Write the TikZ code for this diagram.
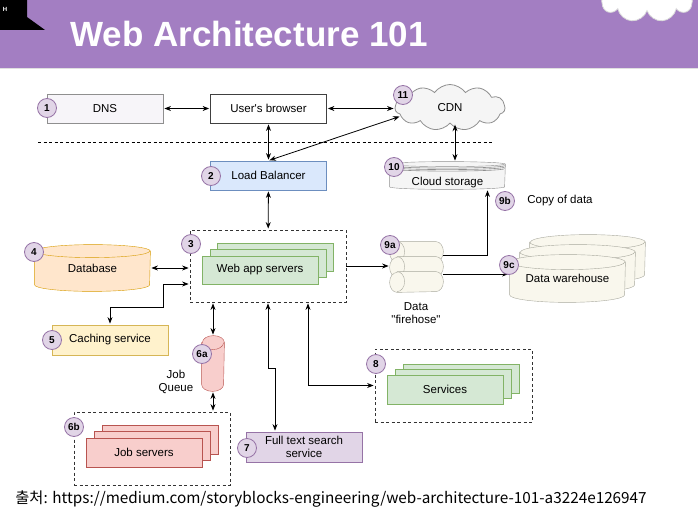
\documentclass[tikz,border=0pt]{standalone}
\usepackage{fontspec}
\setmainfont{Liberation Sans}
\newfontfamily\krfont{Noto Sans CJK KR}
\usetikzlibrary{shapes.symbols,arrows.meta,backgrounds}

\definecolor{hdr}{RGB}{163,126,194}
\definecolor{tagfill}{HTML}{E1D5E7}
\definecolor{tagline}{HTML}{9673A6}
\definecolor{lbfill}{HTML}{DAE8FC}
\definecolor{lbline}{HTML}{6C8EBF}
\definecolor{grfill}{HTML}{D5E8D4}
\definecolor{grline}{HTML}{82B366}
\definecolor{orfill}{HTML}{FFE6CC}
\definecolor{orline}{HTML}{D79B00}
\definecolor{yefill}{HTML}{FFF2CC}
\definecolor{yeline}{HTML}{D6B656}
\definecolor{rdfill}{HTML}{F8CECC}
\definecolor{rdline}{HTML}{B85450}
\definecolor{crfill}{HTML}{F9F7ED}
\definecolor{crline}{HTML}{A9A99E}
\definecolor{dnsfill}{HTML}{F7F5F9}
\definecolor{gyfill}{HTML}{F5F5F5}
\definecolor{gyline}{HTML}{8F8F8F}

\newcommand\drumdraw[4]{%
  \draw[#4] ([yshift=-#3pt]#1.north west) -- ([yshift=#3pt]#1.south west)
    arc[start angle=180, end angle=360, x radius=#2pt, y radius=#3pt]
    -- ([yshift=-#3pt]#1.north east)
    arc[start angle=0, end angle=180, x radius=#2pt, y radius=#3pt] -- cycle
    ([yshift=-#3pt]#1.north west)
    arc[start angle=180, end angle=360, x radius=#2pt, y radius=#3pt];}
\newcommand\pipedraw[4]{%
  \draw[#4] ([xshift=#2pt]#1.north west) -- ([xshift=-#2pt]#1.north east)
    arc[start angle=90, end angle=-90, x radius=#2pt, y radius=#3pt]
    -- ([xshift=#2pt]#1.south west)
    arc[start angle=270, end angle=90, x radius=#2pt, y radius=#3pt] -- cycle
    ([xshift=#2pt]#1.north west)
    arc[start angle=90, end angle=-90, x radius=#2pt, y radius=#3pt];}

\tikzset{
  every node/.style={font=\fontsize{11.5}{13.5}\selectfont},
  box/.style={draw, minimum width=116pt, minimum height=29pt, inner sep=0pt},
  sheet/.style={box, fill=grfill, draw=grline, minimum height=28pt},
  tag/.style={circle, draw=tagline, fill=tagfill, minimum size=19pt, inner sep=0pt,
    font=\bfseries\fontsize{10}{10}\selectfont},
  group/.style={draw=black!80, dash pattern=on 3pt off 2.5pt, inner sep=0pt},
  can/.style={inner sep=0pt, minimum width=115pt, minimum height=47pt},
  pipe/.style={inner sep=0pt, minimum width=53pt, minimum height=20pt},
}

\begin{document}
\begin{tikzpicture}[x=1pt, y=-1pt, line width=0.8pt, >={Stealth[length=6.5pt,width=5pt]}]
  \useasboundingbox (0,0) rectangle (698,516);
  \fill[hdr] (0,0) rectangle (698,68);
  \draw[black!12, line width=1pt] (0,69) -- (698,69);
  \fill (0,0) -- (27,0) -- (27,17) -- (45,30) -- (0,30) -- cycle;
  \node[text=white, inner sep=0pt, font=\bfseries\fontsize{6}{6}\selectfont] (h) at (5,9) {H};
  \node[cloud, cloud puffs=9, aspect=2.4, fill=white, draw=black!15,
    minimum width=90pt, minimum height=40pt] (puff) at (647,2) {};
  \node[anchor=base west, inner sep=0pt, text=white,
    font=\bfseries\fontsize{35}{35}\selectfont] (title) at (70,47) {Web Architecture 101};

  \coordinate (sepl) at (38,142);
  \coordinate (sepr) at (492,142);
  \draw[dash pattern=on 3pt off 2.5pt, line width=0.7pt] (sepl) -- (sepr);

  \node[box, fill=dnsfill, draw=gyline] (dns) at (105,108.5) {DNS};
  \node[box, draw=black!75] (br) at (268.5,108.5) {User\textquotesingle s browser};
  \node[cloud, cloud puffs=11, cloud puff arc=110, aspect=2.4, draw=gyline, fill=gyfill,
    minimum width=110pt, minimum height=46pt] (cdn) at (450,107.5) {CDN};
  \node[box, fill=lbfill, draw=lbline] (lb) at (268.5,175.5) {Load Balancer};

  \node[group, minimum width=156pt, minimum height=72pt] (web) at (268,266) {};
  \node[sheet] (w3) at (275.5,257) {};
  \node[sheet] (w2) at (268,263) {};
  \node[sheet] (w1) at (260,270) {Web app servers};

  \node[can, minimum height=46pt] (db) at (92.5,268) {Database};
  \node[box, fill=yefill, draw=yeline, minimum height=30pt] (cache) at (110,340) {Caching service};

  \node[can, minimum width=22pt, minimum height=55pt] (jq) at (213,363.5) {};
  \node[align=center, inner sep=0pt] (jqtext) at (176,382) {Job\\Queue};

  \node[group, minimum width=156pt, minimum height=73pt] (jobs) at (152,448.5) {};
  \node[box, fill=rdfill, draw=rdline] (j3) at (160,440) {};
  \node[box, fill=rdfill, draw=rdline] (j2) at (152,446) {};
  \node[box, fill=rdfill, draw=rdline] (j1) at (144,452.5) {Job servers};

  \node[box, fill=tagfill, draw=tagline, minimum height=30pt, align=center,
    font=\fontsize{11.5}{12.5}\selectfont] (fts) at (304,447) {Full text search\\service};

  \node[group, minimum width=157pt, minimum height=73pt] (svc) at (453.5,385.5) {};
  \node[sheet, minimum height=29pt] (s3) at (461,378.5) {};
  \node[sheet, minimum height=29pt] (s2) at (453,384) {};
  \node[sheet, minimum height=29pt] (s1) at (445,389.5) {Services};

  \node[pipe] (fh1) at (416.5,252) {};
  \node[pipe] (fh2) at (416.5,267) {};
  \node[pipe] (fh3) at (416.5,282) {};
  \node[align=center, inner sep=0pt] (fhtext) at (416,313) {Data\\\textquotedbl firehose\textquotedbl};

  \node[can] (dw3) at (587.5,258.5) {};
  \node[can] (dw2) at (577.5,268.5) {};
  \node[can] (dw1) at (567.5,278.5) {Data warehouse};

  \node[can, minimum height=27pt, text height=21pt, text depth=2pt] (cs) at (447.5,175.5) {Cloud storage};
  \node[inner sep=0pt] (copy) at (560,201) {Copy of data};

  \begin{scope}[on background layer]
    \drumdraw{db}{57.5}{6.5}{fill=orfill, draw=orline}
    \drumdraw{jq}{11}{7}{fill=rdfill, draw=rdline}
    \pipedraw{fh1}{7.5}{10}{fill=crfill, draw=crline}
    \pipedraw{fh2}{7.5}{10}{fill=crfill, draw=crline}
    \pipedraw{fh3}{7.5}{10}{fill=crfill, draw=crline}
    \drumdraw{dw3}{57.5}{7.5}{fill=crfill, draw=crline}
    \drumdraw{dw2}{57.5}{7.5}{fill=crfill, draw=crline}
    \drumdraw{dw1}{57.5}{7.5}{fill=crfill, draw=crline}
    \drumdraw{cs}{57.5}{2.5}{fill=gyfill, draw=gyline}
    \foreach \k in {4,5.5,7}
      \draw[gyline, line width=0.6pt] ([yshift=-\k pt]cs.north west)
        arc[start angle=180, end angle=360, x radius=57.5pt, y radius=2.5pt];
  \end{scope}

  \node[anchor=base west, inner sep=0pt, font=\krfont\fontsize{15.3}{15.3}\selectfont]
    (src) at (15,503) {출처: https://medium.com/storyblocks-engineering/web-architecture-101-a3224e126947};

  \begin{scope}[<->, shorten >=1pt, shorten <=1pt]
    \draw (dns) to (br);
    \draw (br.east) to (br.east -| cdn.west);
    \draw (lb.north) to (cdn.190);
    \draw (br) to (lb);
    \draw (lb) to (web);
    \draw (db.east) to (db.east -| web.west);
    \coordinate (c5) at (163,307);
    \draw (cache.north) |- (c5) |- ([yshift=-18pt]web.west);
    \draw (jq.north |- web.south) to (jq.north);
    \draw (jq.south) to (jq.south |- jobs.north);
    \coordinate (c7) at (275,368);
    \draw (web.south) |- (c7) -- (c7 |- fts.north);
    \coordinate (c8) at (308,387);
    \draw (c8 |- web.south) |- (svc.west);
    \draw ([xshift=5pt]cdn.south) to ([xshift=5pt]cdn.south |- cs.north);
  \end{scope}
  \begin{scope}[->, shorten >=1pt]
    \draw (web.east) to (web.east -| fh2.west);
    \draw ([yshift=-3pt]fh1.east) -| ([xshift=40pt]cs.south);
    \draw ([yshift=8pt]fh3.east) to ([yshift=8pt]fh3.east -| dw1.west);
  \end{scope}

  \node[tag] (t1) at (47,108) {1};
  \node[tag] (t2) at (211,176) {2};
  \node[tag] (t3) at (191,244) {3};
  \node[tag] (t4) at (34,252) {4};
  \node[tag] (t5) at (52,340) {5};
  \node[tag] (t6a) at (202,354) {6a};
  \node[tag] (t6b) at (74,427) {6b};
  \node[tag] (t7) at (247,448) {7};
  \node[tag] (t8) at (376,364) {8};
  \node[tag] (t9a) at (390,245) {9a};
  \node[tag] (t9b) at (505,201) {9b};
  \node[tag] (t9c) at (509,265) {9c};
  \node[tag] (t10) at (394,167) {10};
  \node[tag] (t11) at (403,95) {11};
\end{tikzpicture}
\end{document}
